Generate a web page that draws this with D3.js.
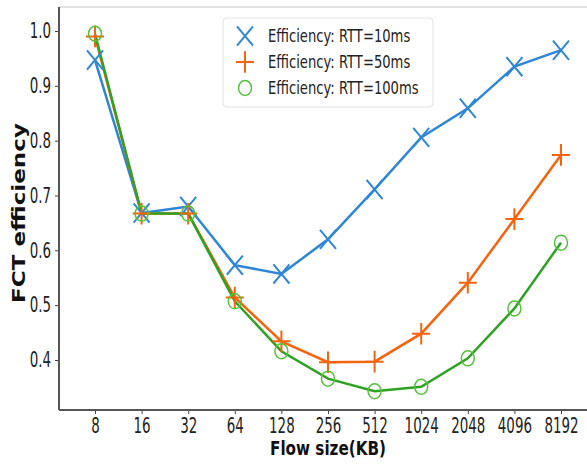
<!DOCTYPE html>
<html>
<head>
<meta charset="utf-8">
<script src="https://cdn.jsdelivr.net/npm/d3@7"></script>
<style>
  body { margin: 0; background: #fff; }
  text { font-family: "DejaVu Sans", sans-serif; }
</style>
</head>
<body>
<div id="chart"></div>
<script>
// data
const sizes = [8, 16, 32, 64, 128, 256, 512, 1024, 2048, 4096, 8192];
const rtt10 = [0.947, 0.668, 0.680, 0.573, 0.557, 0.620, 0.711, 0.806, 0.859, 0.935, 0.965];
const rtt50 = [0.990, 0.667, 0.667, 0.514, 0.434, 0.396, 0.397, 0.448, 0.541, 0.657, 0.774];
const rtt100 = [0.995, 0.667, 0.667, 0.507, 0.416, 0.366, 0.343, 0.351, 0.403, 0.494, 0.614];
const seriesNames = ["Efficiency: RTT=10ms", "Efficiency: RTT=50ms", "Efficiency: RTT=100ms"];
const yTicks = [0.4, 0.5, 0.6, 0.7, 0.8, 0.9, 1.0];

// config
const width = 587;
const height = 464;
const sx = 0.64; // text is squeezed horizontally in the original
const colors = ["#2f86d6", "#f4640f", "#2ea222"];
const markerColors = ["#2f86d6", "#f4640f", "#55c13a"];

const x = d3.scaleLog().base(2)
  .domain([8, 8192])
  .range([95, 561]);
const y = d3.scaleLinear()
  .domain([0.4, 1.0])
  .range([360, 31]);

const plotLeft = 59, plotBottom = 410, plotTop = 7;

const svg = d3.select("#chart")
  .append("svg")
  .attr("width", width)
  .attr("height", height);

// frame
svg.append("line")
  .attr("x1", plotLeft).attr("x2", width)
  .attr("y1", plotTop).attr("y2", plotTop)
  .attr("stroke", "#d8d8d8").attr("stroke-width", 1.5);

// lines
const series = [rtt10, rtt50, rtt100];
const line = d3.line()
  .x((d, i) => x(sizes[i]))
  .y(d => y(d));

series.forEach((s, k) => {
  svg.append("path")
    .datum(s)
    .attr("d", line)
    .attr("fill", "none")
    .attr("stroke", colors[k])
    .attr("stroke-width", 2.5);
});

// markers
const drawMarker = (g, k, cx, cy) => {
  if (k === 0) {
    const r = 8;
    g.append("path")
      .attr("d", `M${cx - r},${cy - r * 1.2}L${cx + r},${cy + r * 1.2}M${cx - r},${cy + r * 1.2}L${cx + r},${cy - r * 1.2}`)
      .attr("stroke", markerColors[k]).attr("stroke-width", 2).attr("fill", "none");
  } else if (k === 1) {
    const r = 9;
    g.append("path")
      .attr("d", `M${cx - r},${cy}L${cx + r},${cy}M${cx},${cy - r * 1.2}L${cx},${cy + r * 1.2}`)
      .attr("stroke", markerColors[k]).attr("stroke-width", 2).attr("fill", "none");
  } else {
    g.append("ellipse")
      .attr("cx", cx).attr("cy", cy)
      .attr("rx", 6.5).attr("ry", 7.5)
      .attr("stroke", markerColors[k]).attr("stroke-width", 1.5).attr("fill", "none");
  }
};

const markers = svg.append("g");
series.forEach((s, k) => {
  s.forEach((v, i) => drawMarker(markers, k, x(sizes[i]), y(v)));
});

// axes
const xAxis = svg.append("g")
  .attr("transform", `translate(0,${plotBottom})`)
  .call(d3.axisBottom(x).tickValues(sizes).tickFormat(d3.format("d")).tickSize(4).tickSizeOuter(0));
xAxis.select(".domain").remove();
xAxis.selectAll("line").attr("stroke", "#444");
xAxis.selectAll("text")
  .attr("y", 8)
  .attr("font-size", 21)
  .attr("fill", "#222")
  .attr("font-family", "DejaVu Sans")
  .attr("transform", `scale(${sx},1)`);

const yAxis = svg.append("g")
  .attr("transform", `translate(${plotLeft},0)`)
  .call(d3.axisLeft(y).tickValues(yTicks).tickFormat(d3.format(".1f")).tickSize(4).tickSizeOuter(0));
yAxis.select(".domain").remove();
yAxis.selectAll("line").attr("stroke", "#444");
yAxis.selectAll("text")
  .attr("x", -8 / sx)
  .attr("font-size", 21)
  .attr("fill", "#222")
  .attr("font-family", "DejaVu Sans")
  .attr("transform", `scale(${sx},1)`);

// spines
svg.append("line")
  .attr("x1", plotLeft).attr("x2", plotLeft)
  .attr("y1", plotTop).attr("y2", plotBottom)
  .attr("stroke", "#555").attr("stroke-width", 2);
svg.append("line")
  .attr("x1", plotLeft).attr("x2", width)
  .attr("y1", plotBottom).attr("y2", plotBottom)
  .attr("stroke", "#555").attr("stroke-width", 2);

// axis titles
svg.append("text")
  .attr("transform", `translate(328,455) scale(0.8,1)`)
  .attr("text-anchor", "middle")
  .attr("font-size", 19)
  .attr("font-weight", "bold")
  .attr("fill", "#111")
  .text("Flow size(KB)");

svg.append("text")
  .attr("transform", `translate(25,213) rotate(-90) scale(1.28,1)`)
  .attr("text-anchor", "middle")
  .attr("font-size", 18)
  .attr("font-weight", "bold")
  .attr("fill", "#111")
  .text("FCT efficiency");

// legend
const legend = svg.append("g");
legend.append("rect")
  .attr("x", 223).attr("y", 18)
  .attr("width", 210).attr("height", 89)
  .attr("rx", 4)
  .attr("fill", "#fff")
  .attr("stroke", "#e2e2e2");
seriesNames.forEach((name, k) => {
  const ly = 36 + k * 26;
  drawMarker(legend, k, 245, ly);
  legend.append("text")
    .attr("transform", `translate(268,${ly + 6}) scale(0.73,1)`)
    .attr("font-size", 18)
    .attr("fill", "#222")
    .text(name);
});
</script>
</body>
</html>
